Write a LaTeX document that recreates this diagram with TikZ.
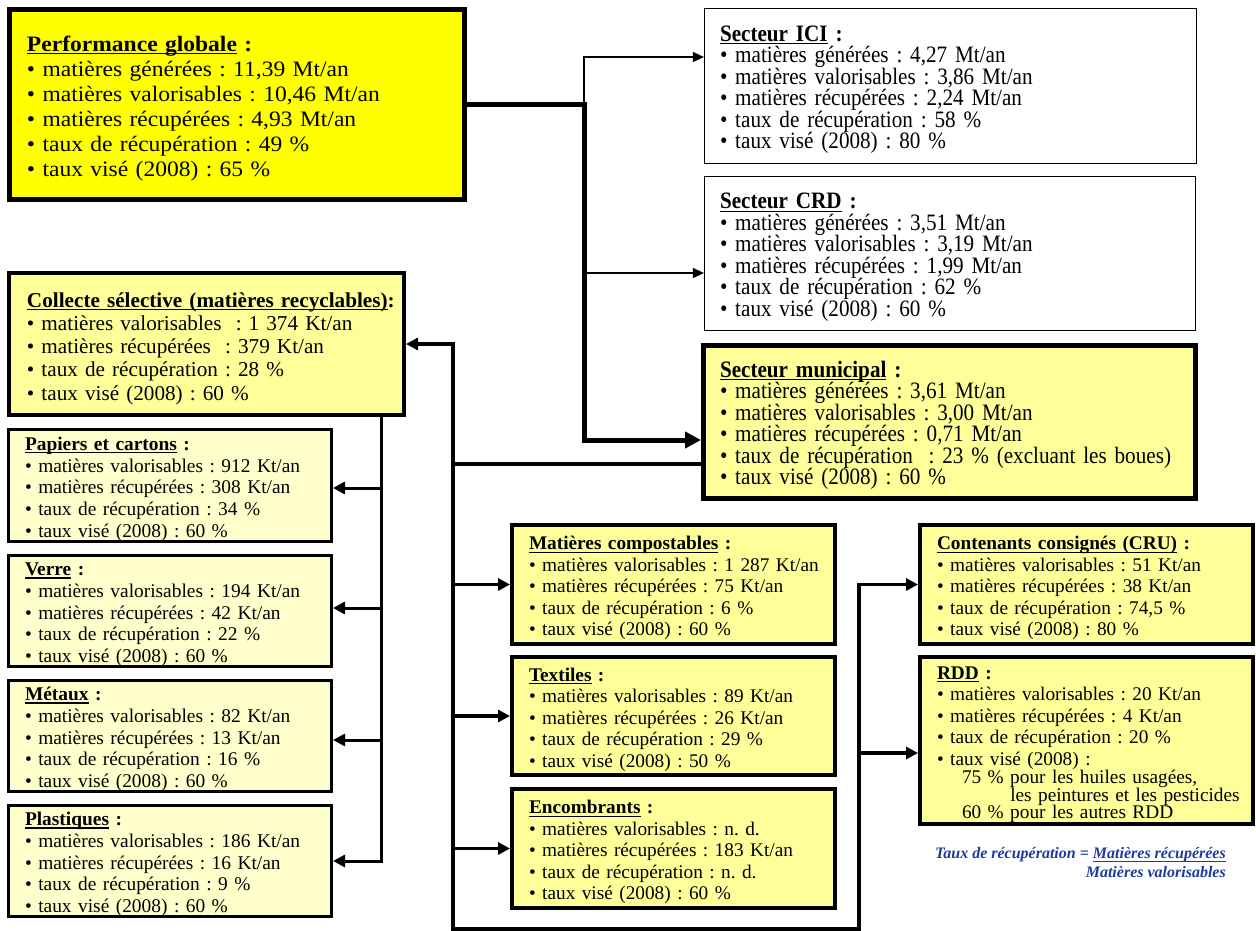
\documentclass[tikz,border=0pt]{standalone}
\usepackage{fontspec}
\setmainfont{Liberation Serif}
\newfontfamily\perffont[FakeStretch=1.07]{Liberation Serif}
\newfontfamily\secfont[FakeStretch=0.9]{Liberation Serif}
\newsavebox\ulbox
\newcommand\myul[2][1.4pt]{\sbox\ulbox{#2}\rlap{\rule[-3pt]{\wd\ulbox}{#1}}\usebox\ulbox}
\newcommand\tst[1][8pt]{\rule{0pt}{\dimexpr\fontcharht\font`\(+#1\relax}}
\usetikzlibrary{arrows.meta}
\definecolor{yel}{HTML}{FFFF00}
\definecolor{lyel}{HTML}{FFFF99}
\definecolor{pyel}{HTML}{FFFFCC}
\definecolor{fblue}{RGB}{28,58,160}
\newcommand\nw{\frenchspacing\rightskip=-200pt plus 1fil\relax}
\tikzset{
  bx/.style={draw, rectangle, align=left, inner ysep=0pt},
  perfbox/.style={bx, line width=5pt, fill=yel, font={\perffont\fontsize{22}{25}\selectfont}},
  secbox/.style={bx, line width=1.2pt, fill=white, font={\secfont\fontsize{23.5}{21.5}\selectfont}},
  munbox/.style={bx, line width=5pt, fill=lyel, font={\secfont\fontsize{23.5}{21.5}\selectfont}},
  colbox/.style={bx, line width=4pt, fill=lyel, font={\fontsize{21.2}{23.3}\selectfont}},
  matbox/.style={bx, line width=3pt, fill=pyel, font={\fontsize{19.4}{21.7}\selectfont}},
  midbox/.style={bx, line width=4pt, fill=lyel, font={\fontsize{19.3}{21.4}\selectfont}},
  thickc/.style={line width=5pt},
  medc/.style={line width=3.5pt},
  lbus/.style={line width=3pt},
  thinc/.style={line width=1.2pt},
  bigtip/.style={-{Triangle[length=16pt,width=16pt]}},
  medtip/.style={-{Triangle[length=12pt,width=12pt]}},
  bothtip/.style={{Triangle[length=12pt,width=12pt]}-{Triangle[length=12pt,width=12pt]}},
  thintip/.style={-{Triangle[length=11pt,width=10pt]}},
}
\begin{document}
\begin{tikzpicture}[x=1pt,y=-1pt]
\useasboundingbox (0,0) rectangle (1256,931);
\fill[white] (0,0) rectangle (1256,931);

% top boxes
\node[perfbox, minimum width=455pt, minimum height=190pt, inner xsep=17.5pt, text width=420pt] (perf) at (237,104.5) {\nw
\textbf{\tst[9pt]\myul{Performance globale} :}\\
• matières générées : 11,39 Mt/an\\
• matières valorisables : 10,46 Mt/an\\
• matières récupérées : 4,93 Mt/an\\
• taux de récupération : 49 \%\\
• taux visé (2008) : 65 \%};

\node[secbox, minimum width=492pt, minimum height=155pt, inner xsep=15.5pt, text width=461pt] (ici) at (950.5,86) {\nw
\textbf{\tst\myul{Secteur ICI} :}\\
• matières générées : 4,27 Mt/an\\
• matières valorisables : 3,86 Mt/an\\
• matières récupérées : 2,24 Mt/an\\
• taux de récupération : 58 \%\\
• taux visé (2008) : 80 \%};

\node[secbox, minimum width=491pt, minimum height=154pt, inner xsep=15.5pt, text width=460pt] (crd) at (950,253.5) {\nw
\textbf{\tst\myul{Secteur CRD} :}\\
• matières générées : 3,51 Mt/an\\
• matières valorisables : 3,19 Mt/an\\
• matières récupérées : 1,99 Mt/an\\
• taux de récupération : 62 \%\\
• taux visé (2008) : 60 \%};

\node[munbox, minimum width=492pt, minimum height=153pt, inner xsep=16.5pt, text width=459pt] (muni) at (949.5,422) {\nw
\textbf{\tst\myul{Secteur municipal} :}\\
• matières générées : 3,61 Mt/an\\
• matières valorisables : 3,00 Mt/an\\
• matières récupérées : 0,71 Mt/an\\
• taux de récupération\ \ : 23 \% (excluant les boues)\\
• taux visé (2008) : 60 \%};

% left column
\node[colbox, minimum width=395pt, minimum height=142pt, inner xsep=18pt, text width=359pt] (coll) at (206.5,344) {\nw
\textbf{\tst[10pt]\myul{Collecte sélective (matières recyclables)}:}\\
• matières valorisables\ \ : 1~374 Kt/an\\
• matières récupérées\ \ : 379 Kt/an\\
• taux de récupération : 28 \%\\
• taux visé (2008) : 60 \%};

\node[matbox, minimum width=323pt, minimum height=112pt, inner xsep=16.5pt, text width=290pt] (pap) at (170,485.5) {\nw
\textbf{\tst\myul{Papiers et cartons} :}\\
• matières valorisables : 912 Kt/an\\
• matières récupérées : 308 Kt/an\\
• taux de récupération : 34 \%\\
• taux visé (2008) : 60 \%};

\node[matbox, minimum width=323pt, minimum height=111pt, inner xsep=16.5pt, text width=290pt] (verre) at (170,611) {\nw
\textbf{\tst\myul{Verre} :}\\
• matières valorisables : 194 Kt/an\\
• matières récupérées : 42 Kt/an\\
• taux de récupération : 22 \%\\
• taux visé (2008) : 60 \%};

\node[matbox, minimum width=323pt, minimum height=111pt, inner xsep=16.5pt, text width=290pt] (metaux) at (170,736) {\nw
\textbf{\tst\myul{Métaux} :}\\
• matières valorisables : 82 Kt/an\\
• matières récupérées : 13 Kt/an\\
• taux de récupération : 16 \%\\
• taux visé (2008) : 60 \%};

\node[matbox, minimum width=323pt, minimum height=111pt, inner xsep=16.5pt, text width=290pt] (plast) at (170,861) {\nw
\textbf{\tst\myul{Plastiques} :}\\
• matières valorisables : 186 Kt/an\\
• matières récupérées : 16 Kt/an\\
• taux de récupération : 9 \%\\
• taux visé (2008) : 60 \%};

% middle column
\node[midbox, minimum width=323pt, minimum height=119pt, inner xsep=17pt, text width=289pt] (compost) at (673.5,584.5) {\nw
\textbf{\tst\myul{Matières compostables} :}\\
• matières valorisables : 1~287 Kt/an\\
• matières récupérées : 75 Kt/an\\
• taux de récupération : 6 \%\\
• taux visé (2008) : 60 \%};

\node[midbox, minimum width=323pt, minimum height=118pt, inner xsep=17pt, text width=289pt] (textiles) at (673.5,716) {\nw
\textbf{\tst\myul{Textiles} :}\\
• matières valorisables : 89 Kt/an\\
• matières récupérées : 26 Kt/an\\
• taux de récupération : 29 \%\\
• taux visé (2008) : 50 \%};

\node[midbox, minimum width=323pt, minimum height=119pt, inner xsep=17pt, text width=289pt] (encomb) at (673.5,848.5) {\nw
\textbf{\tst\myul{Encombrants} :}\\
• matières valorisables : n. d.\\
• matières récupérées : 183 Kt/an\\
• taux de récupération : n. d.\\
• taux visé (2008) : 60 \%};

% right column
\node[midbox, minimum width=333pt, minimum height=119pt, inner xsep=17pt, text width=299pt] (cont) at (1086.5,584.5) {\nw
\textbf{\tst\myul{Contenants consignés (CRU)} :}\\
• matières valorisables : 51 Kt/an\\
• matières récupérées : 38 Kt/an\\
• taux de récupération : 74,5 \%\\
• taux visé (2008) : 80 \%};

\node[midbox, minimum width=333pt, minimum height=167pt, inner xsep=17pt, text width=299pt] (rdd) at (1086.5,740.5) {\nw
\textbf{\tst\myul{RDD} :}\\
• matières valorisables : 20 Kt/an\\
• matières récupérées : 4 Kt/an\\
• taux de récupération : 20 \%\\
• taux visé (2008) :\\[-2.5pt]
\hspace*{25pt}75 \% pour les huiles usagées,\\[-4.3pt]
\hspace*{25pt}\hphantom{75 \% }les peintures et les pesticides\\[-4.3pt]
\hspace*{25pt}60 \% pour les autres RDD};

\node[anchor=east, align=right, text=fblue, inner sep=0pt, font={\bfseries\itshape\fontsize{16}{19}\selectfont}] (formula) at (1226,863) {Taux de récupération = \myul[1pt]{Matières récupérées}\\Matières valorisables};

% connectors
\coordinate (j0) at (584,105);
\coordinate (jm) at (584,440);
\coordinate (ji) at (584,57);
\coordinate (jc) at (584,273);
\draw[thickc, bigtip] (perf.east |- j0) -- (j0) -- (jm) -- (jm -| muni.west);
\draw[thinc, thintip] (j0) -- (ji) -- (ji -| ici.west);
\draw[thinc, thintip] (jc) -- (jc -| crd.west);

\coordinate (bt) at (453,344);
\coordinate (bm) at (453,464);
\coordinate (bb) at (453,929);
\coordinate (rb) at (859,929);
\coordinate (rt) at (859,584.5);
\coordinate (rr) at (859,753);
\draw[medc] (muni.west |- bm) -- (bm);
\draw[medc, bothtip] (bt -| coll.east) -- (bt) -- (bb) -- (rb) -- (rt) -- (cont.west);
\draw[medc, medtip] (rr) -- (rr -| rdd.west);
\draw[medc, medtip] (compost.west -| bb) -- (compost.west);
\draw[medc, medtip] (textiles.west -| bb) -- (textiles.west);
\draw[medc, medtip] (encomb.west -| bb) -- (encomb.west);

\coordinate (lb) at (381,861);
\coordinate (lp) at (381,488);
\coordinate (lv) at (381,608);
\coordinate (lm) at (381,740);
\draw[lbus, medtip] (coll.south -| lb) -- (lb) -- (lb -| plast.east);
\draw[lbus, medtip] (lp) -- (lp -| pap.east);
\draw[lbus, medtip] (lv) -- (lv -| verre.east);
\draw[lbus, medtip] (lm) -- (lm -| metaux.east);
\end{tikzpicture}
\end{document}
